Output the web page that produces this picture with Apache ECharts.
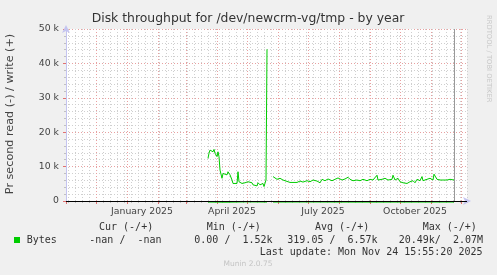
<!DOCTYPE html>
<html><head><meta charset="utf-8">
<script src="https://cdn.jsdelivr.net/npm/echarts@6/dist/echarts.min.js"></script>
<style>html,body{margin:0;padding:0;background:#f0f0f0}#c{width:497px;height:275px}</style>
</head><body><div id="c"></div>
<script>
// ---------- data ----------
const chartTitle = 'Disk throughput for /dev/newcrm-vg/tmp - by year';
const yAxisTitle = 'Pr second read (-) / write (+)';
const yMin = 0, yMax = 50000, yStep = 10000;
const xStart = '2024-11-01', xEnd = '2025-12-07';
const labelMonths = ['2025-01', '2025-04', '2025-07', '2025-10'];
const monthNames = ['January','February','March','April','May','June','July','August','September','October','November','December'];

const writeDates = [
 '2025-03-23','2025-03-24','2025-03-25','2025-03-27','2025-03-28','2025-03-29','2025-03-30','2025-04-01','2025-04-02','2025-04-03',
 '2025-04-04','2025-04-06','2025-04-07','2025-04-09','2025-04-11','2025-04-12','2025-04-14','2025-04-16','2025-04-17','2025-04-19',
 '2025-04-21','2025-04-22','2025-04-23','2025-04-26','2025-04-27','2025-04-29','2025-05-01','2025-05-02','2025-05-04','2025-05-06',
 '2025-05-07','2025-05-09','2025-05-11','2025-05-12','2025-05-14','2025-05-16','2025-05-17','2025-05-18','2025-05-20','2025-05-21',
 '2025-05-22',
 '2025-05-27','2025-05-29','2025-05-31','2025-06-03','2025-06-06','2025-06-08','2025-06-13','2025-06-20','2025-06-23','2025-06-26',
 '2025-06-30','2025-07-03','2025-07-06','2025-07-10','2025-07-13','2025-07-15','2025-07-18','2025-07-21','2025-07-25','2025-07-28',
 '2025-07-31','2025-08-04','2025-08-07','2025-08-10','2025-08-12','2025-08-15','2025-08-19','2025-08-22','2025-08-25','2025-08-29',
 '2025-09-01','2025-09-04','2025-09-08','2025-09-09','2025-09-13','2025-09-16','2025-09-19','2025-09-23','2025-09-24','2025-09-26',
 '2025-09-29','2025-10-01','2025-10-04','2025-10-08','2025-10-11','2025-10-14','2025-10-16','2025-10-18','2025-10-21','2025-10-23',
 '2025-10-24','2025-10-28','2025-10-31','2025-11-03','2025-11-04','2025-11-07','2025-11-10','2025-11-17','2025-11-20','2025-11-24'
];
const writeValues = [
 12400,13900,14800,15300,14300,15000,13900,12900,14300,12900,
 9000,6600,8000,8200,7600,8500,7600,6100,5100,5600,
 5100,8500,5600,5100,5600,5300,4900,5600,5100,5300,
 4700,5100,4400,5300,4700,4400,5100,4200,6100,44100,
 null,
 7100,6900,6300,6600,6100,5600,5400,5400,5800,5500,
 5900,5600,6100,5800,5300,6300,5900,6400,5900,6300,
 6700,6100,6400,6900,6300,5900,6100,5900,6300,5900,
 6300,6100,7500,6100,6300,6600,6100,6300,7500,6100,
 6600,5600,5300,5100,5600,5900,5300,6300,5900,7100,
 5900,6300,6600,6100,7800,6300,6100,6100,6300,6100
];
const readDates = ['2025-03-23','2025-04-10','2025-04-30','2025-05-21','2025-05-22','2025-05-27','2025-07-01','2025-08-15','2025-10-01','2025-11-24'];
const readValues = [-300,-350,-250,-300,null,-300,-280,-320,-300,-300];
const lastUpdate = '2025-11-24T15:55:20';
const legendHeaders = ['Cur (-/+)','Min (-/+)','Avg (-/+)','Max (-/+)'];
const legendName = 'Bytes';
const legendValues = ['-nan /  -nan','0.00 /  1.52k','319.05 /  6.57k','20.49k/  2.07M'];
const lastUpdateText = 'Last update: Mon Nov 24 15:55:20 2025';
const footerText = 'Munin 2.0.75';
const sideText = 'RRDTOOL / TOBI OETIKER';

// ---------- helpers ----------
const DAY = 86400000;
const ts = s => { const p = s.split(/[-T:]/).map(Number); return Date.UTC(p[0], p[1]-1, p[2] || 1, p[3]||0, p[4]||0, p[5]||0); };
const xMin = ts(xStart), xMax = ts(xEnd);
const monthTicks = [], weekTicks = [];
{ let d = new Date(xMin); d.setUTCDate(1);
  while (d.getTime() <= xMax) { if (d.getTime() >= xMin) monthTicks.push(d.getTime()); d.setUTCMonth(d.getUTCMonth()+1); } }
{ let t = xMin; while (new Date(t).getUTCDay() !== 0) t += DAY;
  for (; t <= xMax; t += 7*DAY) weekTicks.push(t); }
const labelPos = labelMonths.map(m => ts(m) + 15*DAY);
const writeData = writeDates.map((d,i) => [ts(d), writeValues[i]]);
const readData = readDates.map((d,i) => [ts(d), readValues[i]]);

const GREEN = '#00cc00', MGRID = '#e8a0a0', GRID = '#cfcfcf', AXIS = '#c4c4f0', TXT = '#444';
const SANS = '"DejaVu Sans", sans-serif', MONO = '"DejaVu Sans Mono", monospace';

const chart = echarts.init(document.getElementById('c'), null, {renderer:'canvas'});
const legendX = [99, 206.7, 315, 422.7];
const valueX = [89.3, 194.3, 287.3, 398.7];
const graphics = [
  {type:'text', x:248, y:19, style:{text:chartTitle, font:'12.4px '+SANS, fill:'#333', textAlign:'center', textVerticalAlign:'middle'}},
  {type:'text', x:10.5, y:114, rotation:Math.PI/2, style:{text:yAxisTitle, font:'11.2px '+SANS, fill:TXT, textAlign:'center', textVerticalAlign:'middle'}},
  {type:'text', x:488.5, y:15, rotation:-Math.PI/2, style:{text:sideText, font:'6.8px '+SANS, fill:'#c8c8c8', textAlign:'left', textVerticalAlign:'middle'}},
  {type:'rect', shape:{x:14, y:237, width:6, height:6}, style:{fill:GREEN}},
  {type:'text', x:26.7, y:240, style:{text:legendName, font:'10px '+MONO, fill:'#333', textAlign:'left', textVerticalAlign:'middle'}},
  {type:'text', x:482.5, y:252, style:{text:lastUpdateText, font:'10px '+MONO, fill:'#333', textAlign:'right', textVerticalAlign:'middle'}},
  {type:'text', x:248, y:264.5, style:{text:footerText, font:'7.5px '+SANS, fill:'#c4c4c4', textAlign:'center', textVerticalAlign:'middle'}}
];
legendHeaders.forEach((t,i) => graphics.push({type:'text', x:legendX[i], y:227.5, style:{text:t, font:'10px '+MONO, fill:'#333', textAlign:'left', textVerticalAlign:'middle'}}));
legendValues.forEach((t,i) => graphics.push({type:'text', x:valueX[i], y:240, style:{text:t, font:'10px '+MONO, fill:'#333', textAlign:'left', textVerticalAlign:'middle'}}));

chart.setOption({
  animation:false,
  backgroundColor:'#f0f0f0',
  grid:{left:66, right:30, top:29, bottom:74, show:true, backgroundColor:'#ffffff', borderWidth:0},
  xAxis:[
    {type:'value', min:xMin, max:xMax, position:'bottom',
     axisLine:{show:false},
     axisTick:{show:true, customValues:weekTicks, length:2, lineStyle:{color:'#c0c0c0'}},
     axisLabel:{show:false},
     splitLine:{show:true, lineStyle:{color:GRID, type:[1,2]}}},
    {type:'value', min:xMin, max:xMax, position:'bottom',
     axisLine:{show:true, onZero:false, lineStyle:{color:AXIS}, symbol:['none','arrow'], symbolSize:[6,8], symbolOffset:[0,4]},
     axisTick:{show:true, customValues:monthTicks, length:3, lineStyle:{color:'#e07070'}},
     axisLabel:{customValues:labelPos, fontFamily:SANS, fontSize:9.3, color:TXT, margin:6,
       formatter:v => { const d = new Date(v); return monthNames[d.getUTCMonth()] + ' ' + d.getUTCFullYear(); }},
     splitLine:{show:true, lineStyle:{color:MGRID, type:[1,2]}}}
  ],
  yAxis:{type:'value', min:yMin, max:yMax, interval:yStep,
    axisLine:{show:true, lineStyle:{color:AXIS}, symbol:['none','arrow'], symbolSize:[6,8], symbolOffset:[0,4]},
    axisTick:{show:true, length:3, lineStyle:{color:'#e07070'}},
    minorTick:{show:true, splitNumber:5, length:2, lineStyle:{color:'#c0c0c0'}},
    splitLine:{show:true, lineStyle:{color:MGRID, type:[1,2]}},
    minorSplitLine:{show:true, lineStyle:{color:GRID, type:[1,2]}},
    axisLabel:{fontFamily:SANS, fontSize:9.3, color:TXT, margin:7,
      formatter:v => v === 0 ? '0' : (v/1000) + ' k'}},
  series:[
    {name:'write', type:'line', xAxisIndex:1, data:writeData, showSymbol:false, connectNulls:false,
     lineStyle:{color:GREEN, width:1}, z:3,
     markLine:{silent:true, symbol:'none', label:{show:false}, animation:false,
       data:[
         {yAxis:0, lineStyle:{color:'#000', width:1, type:'solid'}},
         {xAxis:ts(lastUpdate), lineStyle:{color:'#999', width:1, type:'solid'}}
       ]}},
    {name:'read', type:'line', xAxisIndex:1, data:readData, showSymbol:false, connectNulls:false, clip:false,
     lineStyle:{color:GREEN, width:1}, z:2}
  ],
  graphic:graphics
});
</script></body></html>
